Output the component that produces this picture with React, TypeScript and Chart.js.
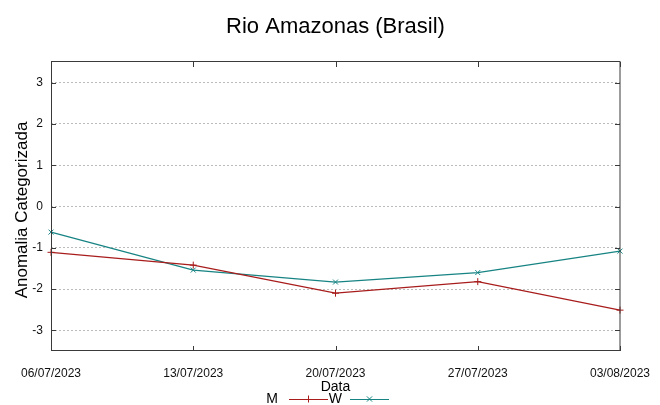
import React, { useEffect, useRef } from "react";
import { Chart, registerables } from "chart.js";

Chart.register(...registerables);

const chartTitle = "Rio Amazonas (Brasil)";
const xTitle = "Data";
const yTitle = "Anomalia Categorizada";
const dates = ["06/07/2023", "13/07/2023", "20/07/2023", "27/07/2023", "03/08/2023"];
const seriesM = [-1.11, -1.42, -2.1, -1.82, -2.51];
const seriesW = [-0.62, -1.54, -1.83, -1.6, -1.08];
const yTickValues = [-3, -2, -1, 0, 1, 2, 3];
const yMin = -3.5;
const yMax = 3.5;

const RED = "#a81c1c";
const TEAL = "#178383";
const FONT = "'Liberation Sans', Arial, sans-serif";

const framePlugin = {
  id: "gnuframe",
  afterDraw(chart: any) {
    const { ctx, chartArea } = chart;
    const { left, right, top, bottom } = chartArea;
    const xs = chart.scales.x;
    const ys = chart.scales.y;
    ctx.save();
    ctx.strokeStyle = "#3a3a3a";
    ctx.lineWidth = 1;
    ctx.setLineDash([]);
    ctx.strokeRect(Math.round(left) + 0.5, Math.round(top) - 0.5, Math.round(right) - Math.round(left) - 0.5, Math.round(bottom) - Math.round(top));
    const tl = 5;
    ctx.beginPath();
    ys.ticks.forEach((t: any) => {
      const y = Math.round(ys.getPixelForValue(t.value)) + 0.5;
      ctx.moveTo(left, y);
      ctx.lineTo(left + tl, y);
      ctx.moveTo(right, y);
      ctx.lineTo(right - tl, y);
    });
    xs.ticks.forEach((_t: any, i: number) => {
      const x = Math.round(xs.getPixelForTick(i)) + 0.5;
      ctx.moveTo(x, bottom);
      ctx.lineTo(x, bottom - tl);
      ctx.moveTo(x, top);
      ctx.lineTo(x, top + tl);
    });
    ctx.stroke();

    const cx = (left + right) / 2;
    ctx.fillStyle = "#000";
    ctx.textBaseline = "middle";
    ctx.font = `22px ${FONT}`;
    ctx.textAlign = "center";
    ctx.fillText(chartTitle, cx, 27);
    ctx.font = `14px ${FONT}`;
    ctx.fillText(xTitle, cx, 387);
    ctx.save();
    ctx.translate(22, 210);
    ctx.rotate(-Math.PI / 2);
    ctx.font = `17px ${FONT}`;
    ctx.fillText(yTitle, 0, 0);
    ctx.restore();

    const legendItems = [
      { label: chart.data.datasets[0].label, color: RED, style: "cross", textRight: 278, x0: 289 },
      { label: chart.data.datasets[1].label, color: TEAL, style: "crossRot", textRight: 342, x0: 350 },
    ];
    const ly = 399;
    legendItems.forEach((it) => {
      ctx.font = `14px ${FONT}`;
      ctx.textAlign = "right";
      ctx.fillStyle = "#000";
      ctx.fillText(it.label, it.textRight, ly);
      ctx.strokeStyle = it.color;
      ctx.lineWidth = 1.2;
      ctx.beginPath();
      ctx.moveTo(it.x0, ly + 0.5);
      ctx.lineTo(it.x0 + 39, ly + 0.5);
      ctx.stroke();
      const mx = it.x0 + 19.5;
      const r = 3.5;
      ctx.lineWidth = 1;
      ctx.beginPath();
      if (it.style === "cross") {
        ctx.moveTo(mx - r, ly + 0.5);
        ctx.lineTo(mx + r, ly + 0.5);
        ctx.moveTo(mx, ly - r);
        ctx.lineTo(mx, ly + r);
      } else {
        const d = r * 0.75;
        ctx.moveTo(mx - d, ly - d);
        ctx.lineTo(mx + d, ly + d);
        ctx.moveTo(mx - d, ly + d);
        ctx.lineTo(mx + d, ly - d);
      }
      ctx.stroke();
    });
    ctx.restore();
  },
};

export default function App() {
  const ref = useRef<HTMLCanvasElement | null>(null);
  useEffect(() => {
    if (!ref.current) return;
    const chart = new Chart(ref.current, {
      type: "line",
      data: {
        labels: dates,
        datasets: [
          {
            label: "M",
            data: seriesM,
            borderColor: RED,
            backgroundColor: RED,
            borderWidth: 1.2,
            pointStyle: "cross",
            pointRadius: 3.5,
            pointBorderWidth: 1,
            tension: 0,
            clip: false as any,
          },
          {
            label: "W",
            data: seriesW,
            borderColor: TEAL,
            backgroundColor: TEAL,
            borderWidth: 1.2,
            pointStyle: "crossRot",
            pointRadius: 3.5,
            pointBorderWidth: 1,
            tension: 0,
            clip: false as any,
          },
        ],
      },
      options: {
        responsive: false,
        animation: false,
        devicePixelRatio: 1,
        layout: { padding: { top: 62, right: 40, bottom: 0, left: 0 } },
        plugins: {
          legend: { display: false },
          title: { display: false },
          tooltip: { enabled: false },
        },
        scales: {
          x: {
            type: "category",
            offset: false,
            grid: { display: false, drawTicks: false },
            border: { display: false },
            ticks: {
              color: "#111",
              font: { family: FONT, size: 12 },
              padding: 15,
              maxRotation: 0,
              autoSkip: false,
            },
            afterFit: (s: any) => {
              s.height = 54;
              s.paddingLeft = 0;
              s.paddingRight = 0;
            },
          },
          y: {
            type: "linear",
            min: yMin,
            max: yMax,
            afterBuildTicks: (s: any) => {
              s.ticks = yTickValues.map((v) => ({ value: v }));
            },
            grid: {
              color: "#bcbcbc",
              lineWidth: 1,
              drawTicks: false,
            },
            border: { display: false, dash: [2, 2] },
            ticks: {
              color: "#111",
              font: { family: FONT, size: 12 },
              padding: 8,
            },
            afterFit: (s: any) => {
              s.width = 51;
              s.paddingTop = 0;
              s.paddingBottom = 0;
            },
          },
        },
      },
      plugins: [framePlugin],
    });
    return () => chart.destroy();
  }, []);
  return (
    <div style={{ position: "absolute", left: 0, top: 0, width: 660, height: 405 }}>
      <canvas ref={ref} width={660} height={405} style={{ display: "block" }} />
    </div>
  );
}
